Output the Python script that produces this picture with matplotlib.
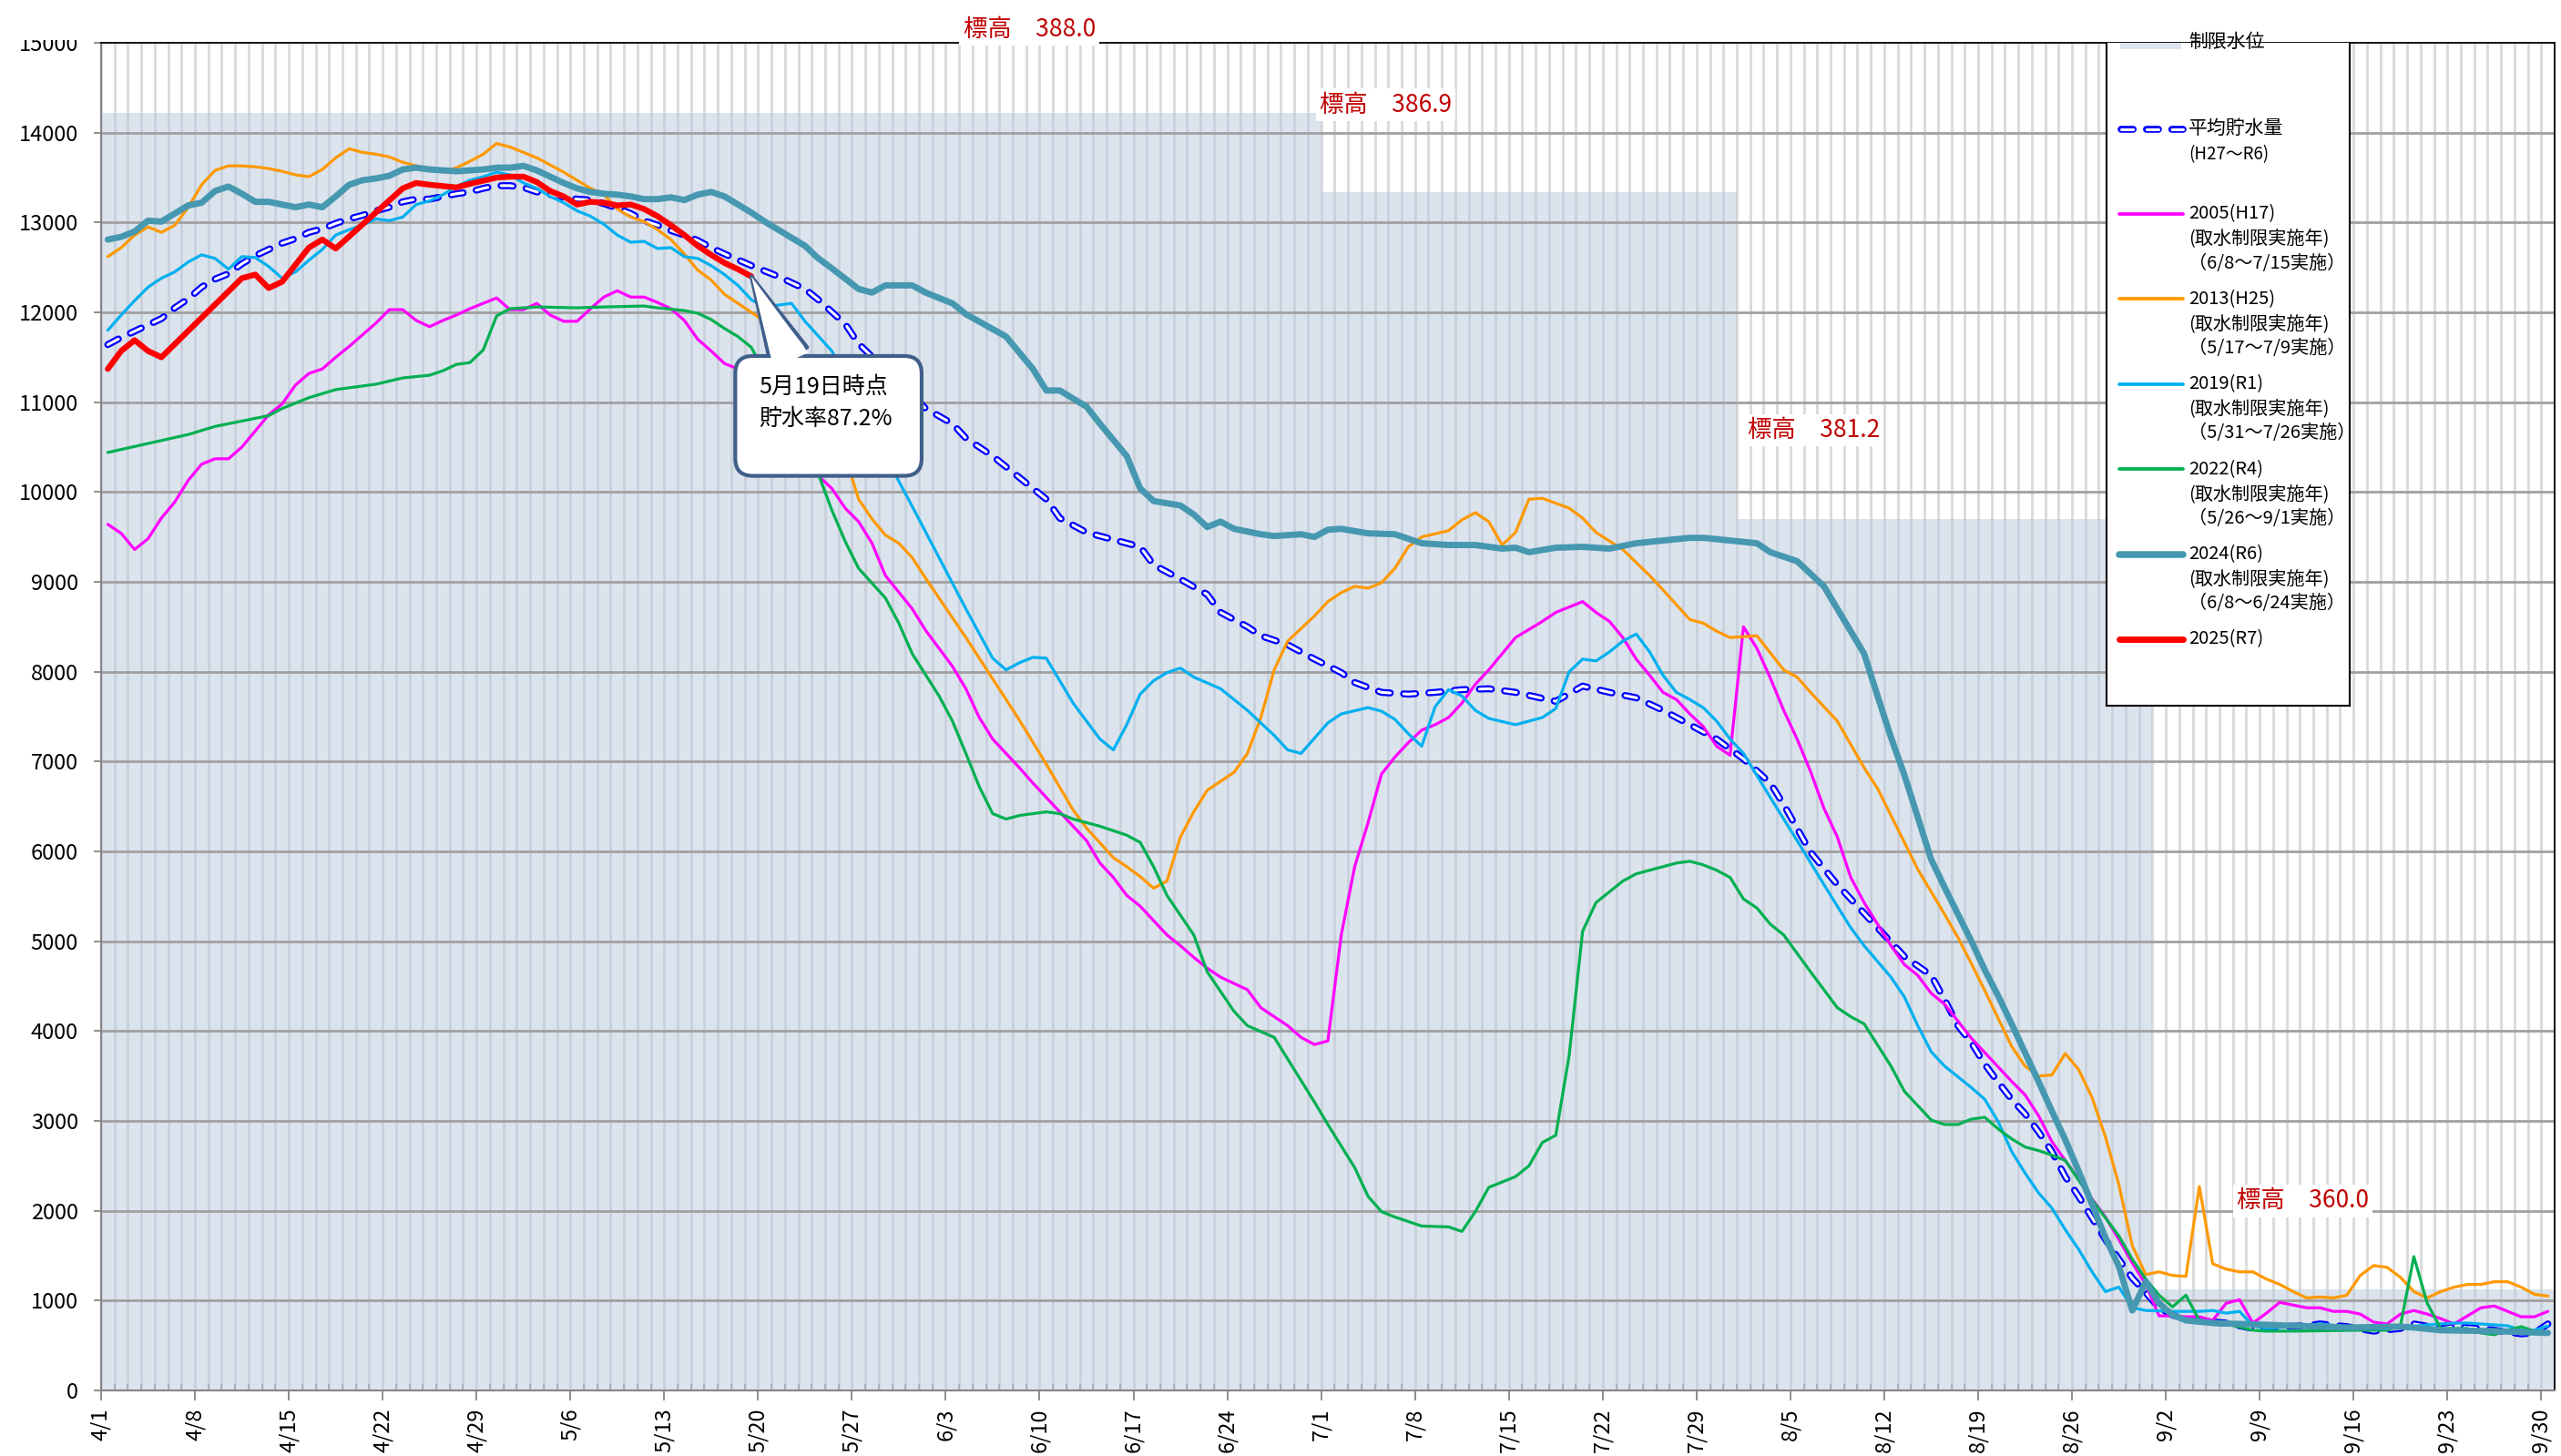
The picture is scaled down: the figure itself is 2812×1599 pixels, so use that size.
import matplotlib
matplotlib.use('Agg')
import matplotlib.pyplot as plt
from matplotlib.patches import Rectangle, FancyBboxPatch

plt.rcParams['font.family'] = ['Noto Sans CJK JP', 'DejaVu Sans']

# day index: 4/1 = 0 ... 9/30 = 182
tick_labels = ['4/1', '4/8', '4/15', '4/22', '4/29', '5/6', '5/13', '5/20', '5/27',
               '6/3', '6/10', '6/17', '6/24', '7/1', '7/8', '7/15', '7/22', '7/29',
               '8/5', '8/12', '8/19', '8/26', '9/2', '9/9', '9/16', '9/23', '9/30']

# 制限水位 (step, from day)
limit_days = [0, 91, 122, 153, 183]
limit_vals = [14220, 13340, 9700, 1130, 1130]

# 平均貯水量 (H27~R6)
avg_d = list(range(47)) + [48, 50, 52, 53, 55, 56, 61, 63, 64, 66, 68, 70, 71, 73, 75, 77, 78, 80, 82, 83,
                           85, 86, 88, 90, 92, 93, 95, 97, 99, 101, 103, 105, 108, 110, 112, 114, 116, 118, 120, 122,
                           124, 125, 127, 129, 131, 133, 134, 136, 137, 138, 139, 140, 141, 142, 143, 144, 145, 146,
                           147, 148, 149, 150, 151, 152, 153, 154, 155, 156, 158, 160, 162, 164, 165, 167, 169, 171,
                           172, 174, 175, 177, 178, 180, 181, 182]
avg_v = [11640, 11720, 11790, 11860, 11930, 12050, 12150, 12280, 12370, 12430, 12540, 12630, 12700, 12770,
         12820, 12890, 12930, 12990, 13040, 13080, 13130, 13170, 13230, 13260, 13260, 13290, 13320, 13340,
         13380, 13410, 13410, 13390, 13340, 13310, 13280, 13260, 13250, 13210, 13160, 13100, 13020, 12970,
         12910, 12860, 12800, 12720, 12650,
         12520, 12400, 12260, 12140, 11870, 11650, 10930, 10760, 10600, 10400, 10160, 9920, 9710, 9550, 9470,
         9390, 9190, 9030, 8860, 8660, 8500, 8400, 8300, 8140, 7990, 7880, 7770, 7750, 7770, 7800, 7810, 7770,
         7670, 7840, 7770, 7710, 7570, 7410, 7250, 7030, 6760, 6520, 5990, 5630, 5310, 4990, 4830, 4620, 4350,
         4060, 3870, 3630, 3430, 3240, 3080, 2880, 2660, 2380, 2160, 1920, 1680, 1460, 1250, 1090, 920, 840,
         790, 775, 750, 690, 710, 720, 740, 710, 660, 690, 740, 690, 710, 690, 670, 630, 640, 740]

# 2005(H17)
y2005_d = list(range(47)) + [47, 52, 54, 55, 56, 57, 58, 60, 61, 62, 63, 64, 65, 66, 67, 68, 69, 70, 71, 72,
                             73, 74, 75, 76, 77, 78, 79, 80, 81, 82, 83, 85, 86, 87, 88, 89, 90, 91, 92, 93, 94,
                             95, 96, 97, 98, 99, 100, 101, 102, 103, 105, 107, 108, 110, 111, 112, 113, 114, 115,
                             116, 117, 118, 119, 120, 121, 122, 123, 124, 125, 126, 127, 128, 129, 130, 131, 132,
                             133, 134, 135, 136, 137, 138, 139, 140, 141, 142, 143, 144, 145, 146, 147, 148, 149,
                             150, 151, 152, 153, 154, 155, 156, 157, 158, 159, 160, 161, 162, 163, 164, 165, 166,
                             167, 168, 169, 170, 171, 172, 173, 174, 175, 176, 177, 178, 179, 180, 181, 182]
y2005_v = [9640, 9540, 9360, 9480, 9710, 9890, 10130, 10310, 10370, 10370, 10500, 10680, 10860, 10980, 11190,
           11320, 11370, 11500, 11620, 11750, 11880, 12030, 12030, 11910, 11840, 11910, 11970, 12040, 12100,
           12160, 12030, 12030, 12100, 11970, 11900, 11900, 12040, 12170, 12240, 12170, 12170, 12110, 12040,
           11910, 11700, 11570, 11430,
           11370, 10320, 10040, 9820, 9670, 9430, 9070, 8700, 8460, 8260, 8060, 7810, 7490, 7250, 7090, 6930,
           6760, 6600, 6440, 6280, 6120, 5870, 5710, 5510, 5390, 5230, 5070, 4950, 4820, 4700, 4600, 4460, 4260,
           4160, 4060, 3930, 3850, 3890, 5070, 5830, 6320, 6860, 7050, 7210, 7350, 7410, 7490, 7650, 7860, 8020,
           8380, 8560, 8660, 8780, 8660, 8560, 8380, 8140, 7960, 7770, 7690, 7530, 7390, 7170, 7070, 8500, 8260,
           7930, 7570, 7250, 6890, 6480, 6160, 5710, 5430, 5190, 4950, 4740, 4620, 4420, 4300, 4110, 3920, 3760,
           3600, 3440, 3290, 3060, 2770, 2560, 2350, 2130, 1930, 1680, 1420, 1180, 830, 830, 820, 820, 780, 970,
           1010, 750, 860, 980, 950, 920, 920, 880, 880, 850, 760, 740, 850, 890, 850, 800, 740, 830, 920, 940,
           880, 820, 820, 880]

# 2013(H25)
y2013_d = list(range(47)) + [47, 48, 49, 50, 51, 52, 53, 54, 55, 56, 57, 58, 59, 60, 61, 64, 66, 68, 70, 72,
                             73, 75, 76, 77, 78, 79, 80, 81, 82, 84, 85, 86, 87, 88, 90, 91, 92, 93, 94, 95, 96,
                             97, 98, 100, 101, 102, 103, 104, 105, 106, 107, 109, 110, 111, 113, 115, 116, 118,
                             119, 120, 121, 123, 125, 126, 127, 128, 129, 131, 132, 133, 134, 135, 136, 137, 138,
                             139, 140, 141, 142, 143, 144, 145, 146, 147, 148, 149, 150, 151, 152, 153, 154, 155,
                             156, 157, 158, 159, 160, 161, 162, 163, 164, 165, 166, 167, 168, 169, 170, 171, 172,
                             173, 174, 175, 176, 177, 178, 179, 180, 181, 182]
y2013_v = [12620, 12720, 12860, 12950, 12890, 12970, 13170, 13420, 13580, 13630, 13630, 13620, 13600, 13570,
           13530, 13510, 13590, 13720, 13820, 13780, 13760, 13730, 13670, 13630, 13600, 13560, 13610, 13680,
           13760, 13880, 13840, 13780, 13720, 13640, 13560, 13470, 13380, 13310, 13150, 13060, 13010, 12920,
           12810, 12650, 12470, 12360, 12200,
           12100, 12000, 11900, 11780, 11650, 11450, 11200, 10800, 10400, 9920, 9700, 9520, 9430, 9270, 9040,
           8380, 7920, 7460, 6970, 6460, 6260, 5930, 5830, 5720, 5590, 5670, 6160, 6440, 6680, 6880, 7090, 7490,
           8020, 8340, 8620, 8780, 8880, 8950, 8930, 8990, 9150, 9390, 9500, 9570, 9690, 9770, 9670, 9410, 9550,
           9920, 9930, 9820, 9710, 9550, 9360, 9070, 8910, 8580, 8540, 8450, 8380, 8400, 8020, 7940, 7770, 7610,
           7450, 6930, 6700, 6400, 6100, 5800, 5550, 5300, 5040, 4750, 4450, 4140, 3830, 3610, 3500, 3510, 3750,
           3570, 3260, 2820, 2290, 1610, 1290, 1320, 1280, 1270, 2270, 1410, 1350, 1320, 1320, 1240, 1180, 1100,
           1030, 1040, 1030, 1060, 1280, 1390, 1370, 1260, 1100, 1030, 1100, 1150, 1180, 1180, 1210, 1210, 1150,
           1070, 1050]

# 2019(R1)
y2019_d = list(range(47)) + [47, 48, 49, 51, 52, 54, 56, 58, 60, 62, 64, 66, 67, 68, 69, 70, 71, 72, 74, 75,
                             76, 77, 78, 79, 80, 81, 83, 85, 87, 88, 89, 90, 91, 92, 94, 95, 96, 97, 98, 99, 100,
                             101, 102, 103, 105, 107, 108, 109, 110, 111, 112, 113, 114, 115, 116, 117, 118, 119,
                             120, 121, 122, 124, 126, 128, 130, 131, 133, 134, 135, 136, 137, 138, 139, 140, 141,
                             142, 143, 144, 145, 146, 147, 148, 149, 150, 151, 152, 154, 156, 157, 158, 159, 160,
                             161, 163, 165, 167, 169, 171, 173, 174, 175, 176, 178, 179, 180, 181, 182]
y2019_v = [11800, 11970, 12130, 12280, 12380, 12450, 12560, 12640, 12600, 12480, 12620, 12610, 12510, 12380,
           12450, 12580, 12700, 12860, 12920, 12970, 13040, 13020, 13060, 13200, 13240, 13310, 13400, 13470,
           13510, 13560, 13530, 13440, 13380, 13290, 13220, 13130, 13070, 12980, 12860, 12780, 12790, 12710,
           12720, 12620, 12600, 12520, 12420,
           12300, 12140, 12060, 12100, 11900, 11570, 11050, 10400, 9840, 9270, 8700, 8150, 8020, 8100, 8160,
           8150, 7900, 7650, 7250, 7130, 7410, 7750, 7900, 7990, 8040, 7940, 7810, 7570, 7290, 7130, 7090, 7260,
           7430, 7530, 7600, 7560, 7470, 7310, 7170, 7610, 7800, 7730, 7570, 7480, 7410, 7490, 7590, 8000, 8140,
           8120, 8220, 8340, 8420, 8220, 7960, 7770, 7690, 7600, 7450, 7250, 7090, 6600, 6120, 5630, 5150, 4950,
           4600, 4380, 4060, 3770, 3610, 3490, 3370, 3240, 2990, 2660, 2420, 2200, 2030, 1790, 1570, 1320, 1100,
           1150, 920, 890, 880, 880, 890, 860, 880, 720, 690, 710, 740, 710, 690, 700, 730, 740, 750, 750, 730,
           720, 670, 670, 720]

# 2022(R4)
y2022_d = [0, 6, 8, 12, 13, 15, 17, 20, 22, 24, 25, 26, 27, 28, 29, 30, 32, 35, 37, 40, 41, 43, 44, 45, 46,
           47, 48, 52, 53, 54, 55, 56, 58, 59, 60, 62, 63, 64, 65, 66, 67, 68, 70, 71, 72, 74, 76, 77, 78, 79,
           81, 82, 84, 85, 87, 88, 89, 90, 91, 92, 93, 94, 95, 96, 98, 100, 101, 102, 103, 104, 105, 106, 107,
           108, 109, 110, 111, 112, 113, 114, 115, 116, 117, 118, 119, 120, 121, 122, 123, 124, 125, 127, 129,
           130, 131, 133, 134, 136, 137, 138, 139, 140, 141, 142, 143, 144, 145, 146, 147, 148, 149, 150, 151,
           152, 153, 154, 155, 156, 157, 158, 160, 161, 163, 168, 170, 171, 172, 173, 174, 176, 177, 178, 179,
           180, 181, 182]
y2022_v = [10440, 10640, 10730, 10850, 10930, 11050, 11140, 11200, 11270, 11300, 11350, 11420, 11440, 11580,
           11960, 12040, 12060, 12050, 12060, 12070, 12050, 12020, 11990, 11920, 11820,
           11730, 11610, 10480, 10200, 9800, 9450, 9150, 8820, 8540, 8200, 7730, 7450, 7090, 6720, 6420, 6360,
           6400, 6440, 6420, 6360, 6280, 6180, 6100, 5830, 5510, 5070, 4660, 4220, 4060, 3930, 3690, 3450, 3210,
           2960, 2720, 2480, 2160, 1990, 1930, 1830, 1820, 1770, 1990, 2260, 2320, 2380, 2500, 2760, 2840, 3730,
           5110, 5430, 5550, 5670, 5750, 5790, 5830, 5870, 5890, 5850, 5790, 5710, 5470, 5370, 5190, 5070, 4660,
           4260, 4160, 4080, 3610, 3330, 3010, 2960, 2960, 3020, 3040, 2910, 2800, 2710, 2670, 2620, 2560, 2340,
           2120, 1920, 1720, 1460, 1240, 1060, 930, 1060, 780, 750, 740, 670, 660, 660, 670, 670, 720, 1490, 970,
           690, 690, 640, 620, 670, 710, 660, 640]

# 2024(R6)
y2024_d = list(range(47)) + [47, 48, 49, 50, 52, 53, 54, 56, 57, 58, 60, 61, 63, 64, 67, 69, 70, 71, 73, 74,
                             76, 77, 78, 80, 81, 82, 83, 84, 86, 87, 89, 90, 91, 92, 94, 96, 98, 100, 102, 104,
                             105, 106, 108, 110, 112, 114, 116, 118, 119, 121, 123, 124, 126, 127, 128, 129, 130,
                             131, 132, 133, 134, 135, 136, 137, 138, 139, 140, 141, 142, 143, 144, 145, 146, 147,
                             148, 149, 150, 151, 152, 153, 154, 155, 157, 159, 161, 167, 171, 172, 174, 178, 182]
y2024_v = [12810, 12840, 12900, 13020, 13010, 13100, 13190, 13220, 13350, 13400, 13320, 13230, 13230, 13200,
           13170, 13200, 13170, 13290, 13420, 13470, 13490, 13520, 13590, 13610, 13590, 13580, 13570, 13580,
           13590, 13610, 13610, 13630, 13580, 13510, 13440, 13380, 13340, 13320, 13310, 13290, 13260, 13260,
           13280, 13250, 13310, 13340, 13290,
           13200, 13110, 13010, 12920, 12740, 12600, 12490, 12260, 12220, 12300, 12300, 12220, 12100, 11980,
           11730, 11370, 11130, 11130, 10950, 10760, 10400, 10040, 9900, 9850, 9750, 9610, 9670, 9590, 9530,
           9510, 9530, 9500, 9580, 9590, 9540, 9530, 9430, 9410, 9410, 9370, 9380, 9330, 9380, 9390, 9370, 9430,
           9460, 9490, 9490, 9460, 9430, 9330, 9230, 9090, 8950, 8700, 8450, 8200, 7730, 7270, 6850, 6380, 5910,
           5600, 5300, 5000, 4680, 4390, 4080, 3760, 3440, 3110, 2790, 2440, 2070, 1700, 1380, 890, 1210, 970,
           840, 780, 750, 740, 730, 700, 710, 700, 670, 660, 640]

# 2025(R7)
y2025_d = [0, 1, 2, 3, 4, 10, 11, 12, 13, 15, 16, 17, 22, 23, 24, 26, 27, 29, 30, 31, 32, 33, 34, 35, 36,
           37, 38, 39, 40, 41, 42, 43, 44, 45, 46, 47, 48]
y2025_v = [11370, 11570, 11690, 11570, 11500, 12380, 12420, 12270, 12340, 12720, 12810, 12710, 13380, 13440,
           13420, 13390, 13430, 13500, 13510, 13510, 13450, 13350, 13290, 13200, 13230, 13220, 13190, 13200,
           13150, 13070, 12970, 12860, 12740, 12640, 12550, 12480, 12400]

series = [
    ('2005(H17)\n(取水制限実施年)\n（6/8〜7/15実施）', y2005_d, y2005_v, '#FF00FF', 2.3),
    ('2013(H25)\n(取水制限実施年)\n（5/17〜7/9実施）', y2013_d, y2013_v, '#FF9900', 2.3),
    ('2019(R1)\n(取水制限実施年)\n（5/31〜7/26実施）', y2019_d, y2019_v, '#00B0F0', 2.3),
    ('2022(R4)\n(取水制限実施年)\n（5/26〜9/1実施）', y2022_d, y2022_v, '#00B050', 2.3),
    ('2024(R6)\n(取水制限実施年)\n（6/8〜6/24実施）', y2024_d, y2024_v, '#4698B0', 5.0),
    ('2025(R7)', y2025_d, y2025_v, '#FF0000', 4.6),
]

W, H = 2812, 1599
fig = plt.figure(figsize=(W / 100, H / 100), dpi=100)
ax = fig.add_axes([111 / W, 1 - 1527 / H, (2805 - 111) / W, (1527 - 47) / H])

ax.set_xlim(0, 183)
ax.set_ylim(0, 15000)

# restriction level shading
ax.fill_between(limit_days, limit_vals, step='post', color='#B9C9DD', alpha=0.5, lw=0, zorder=0.8)

# grid
ax.set_axisbelow(True)
ax.set_xticks(range(0, 183, 7))
ax.set_xticks(range(0, 184), minor=True)
ax.grid(True, which='both', axis='x', color='#D9D9D9', lw=2.0)
yt = list(range(0, 15001, 1000))
ax.set_yticks(yt)
ax.hlines(yt[1:-1], 0, 183, color='#A0A0A0', lw=2.0, zorder=1)

ax.set_xticklabels(tick_labels, rotation=90)
ax.tick_params(axis='y', direction='out', length=6, width=1.3, color='#868686', labelsize=17, pad=12)
ax.tick_params(axis='x', which='major', direction='out', length=8, width=1.3, color='#868686',
               labelsize=17, pad=6)
ax.tick_params(axis='x', which='minor', direction='in', length=5, width=1.1, color='#868686')
for s in ['left', 'bottom']:
    ax.spines[s].set_color('#868686')
    ax.spines[s].set_linewidth(1.5)
for s in ['top', 'right']:
    ax.spines[s].set_color('black')
    ax.spines[s].set_linewidth(1.3)

# average line (hollow dashes)
dash_out = (0, (1.73, 1.91))
dash_in = (0, (1.73 * 2.5, 1.91 * 2.5))
ax_x = [d + 0.5 for d in avg_d]
ax.plot(ax_x, avg_v, color='#0000FF', lw=5.5, ls=dash_out, dash_capstyle='round', zorder=2)
ax.plot(ax_x, avg_v, color='white', lw=2.2, ls=dash_in, dash_capstyle='round', zorder=2.05)

for i, (lab, d, v, c, lw) in enumerate(series):
    ax.plot([k + 0.5 for k in d], v, color=c, lw=lw, solid_joinstyle='round',
            solid_capstyle='round', zorder=2.1 + i * 0.1)

# elevation labels
for (x, y, s) in [(64.3, 15150, '標高　388.0'), (90.9, 14310, '標高　386.9'),
                  (122.8, 10690, '標高　381.2'), (159.3, 2110, '標高　360.0')]:
    ax.text(x, y, s, color='#C00000', fontsize=19, ha='left', va='center', clip_on=False,
            bbox=dict(fc='white', ec='none', pad=3), zorder=5)

# callout
border = '#3F5F8A'
tip = (y2025_d[-1] + 0.5, y2025_v[-1])
ax.annotate('', xy=tip, xytext=(51.3, 11514),
            arrowprops=dict(arrowstyle='wedge,tail_width=32,shrink_factor=0.5', mutation_scale=1,
                            fc='white', ec=border, lw=3, shrinkA=0, shrinkB=0), zorder=6)
# box: 1 day = 14.72 px, 1000 = 98.66 px -> aspect keeps the corners round
ax.add_patch(FancyBboxPatch((47.3, 10180), 61.2 - 47.3, 11514 - 10180,
                            boxstyle='round,pad=0,rounding_size=1.3', mutation_aspect=149.2,
                            fc='white', ec=border, lw=3, zorder=7))
ax.annotate('', xy=tip, xytext=(51.45, 11462),
            arrowprops=dict(arrowstyle='wedge,tail_width=30,shrink_factor=0.5', mutation_scale=1,
                            fc='white', ec='none', lw=0, shrinkA=0, shrinkB=0), zorder=8)
ax.text(49.05, 10990, '5月19日時点\n貯水率87.2%', ha='left', va='center', fontsize=18,
        linespacing=1.45, zorder=9)

# legend box (top is clipped by the plot area like the original)
lg = fig.add_axes([2313 / W, 1 - 775 / H, 267 / W, 728 / H])
lg.set_xlim(0, 267)
lg.set_ylim(728, 0)
lg.set_xticks([])
lg.set_yticks([])
lg.spines['top'].set_visible(False)
for s in ['left', 'right', 'bottom']:
    lg.spines[s].set_color('black')
    lg.spines[s].set_linewidth(1.5)
lg.add_patch(Rectangle((15, -6), 67, 13, fc='#DCE4EE', ec='none'))
lg.text(90, -1, '制限水位', fontsize=15, va='center')
lg.plot([16, 84], [95, 95], color='#0000FF', lw=5.5, ls=dash_out, dash_capstyle='round')
lg.plot([16, 84], [95, 95], color='white', lw=2.2, ls=dash_in, dash_capstyle='round')
lg.text(90, 94, '平均貯水量', fontsize=15, va='center')
lg.text(90, 123, '(H27〜R6)', fontsize=13.5, va='center')
for i, (lab, d, v, c, lw) in enumerate(series):
    y0 = 188 + i * 93.4
    lg.plot([14, 84], [y0, y0], color=c, lw=lw + 0.4, solid_capstyle='round')
    for j, line in enumerate(lab.split('\n')):
        lg.text(90, y0 + j * 27, line, fontsize=14.5, va='center')

# top of the "15000" label is hidden in the original
fig.patches.append(Rectangle((0, 1 - 44 / H), 100 / W, 44 / H, transform=fig.transFigure,
                             fc='white', ec='none', zorder=3))

fig.savefig('out.png', dpi=100)
